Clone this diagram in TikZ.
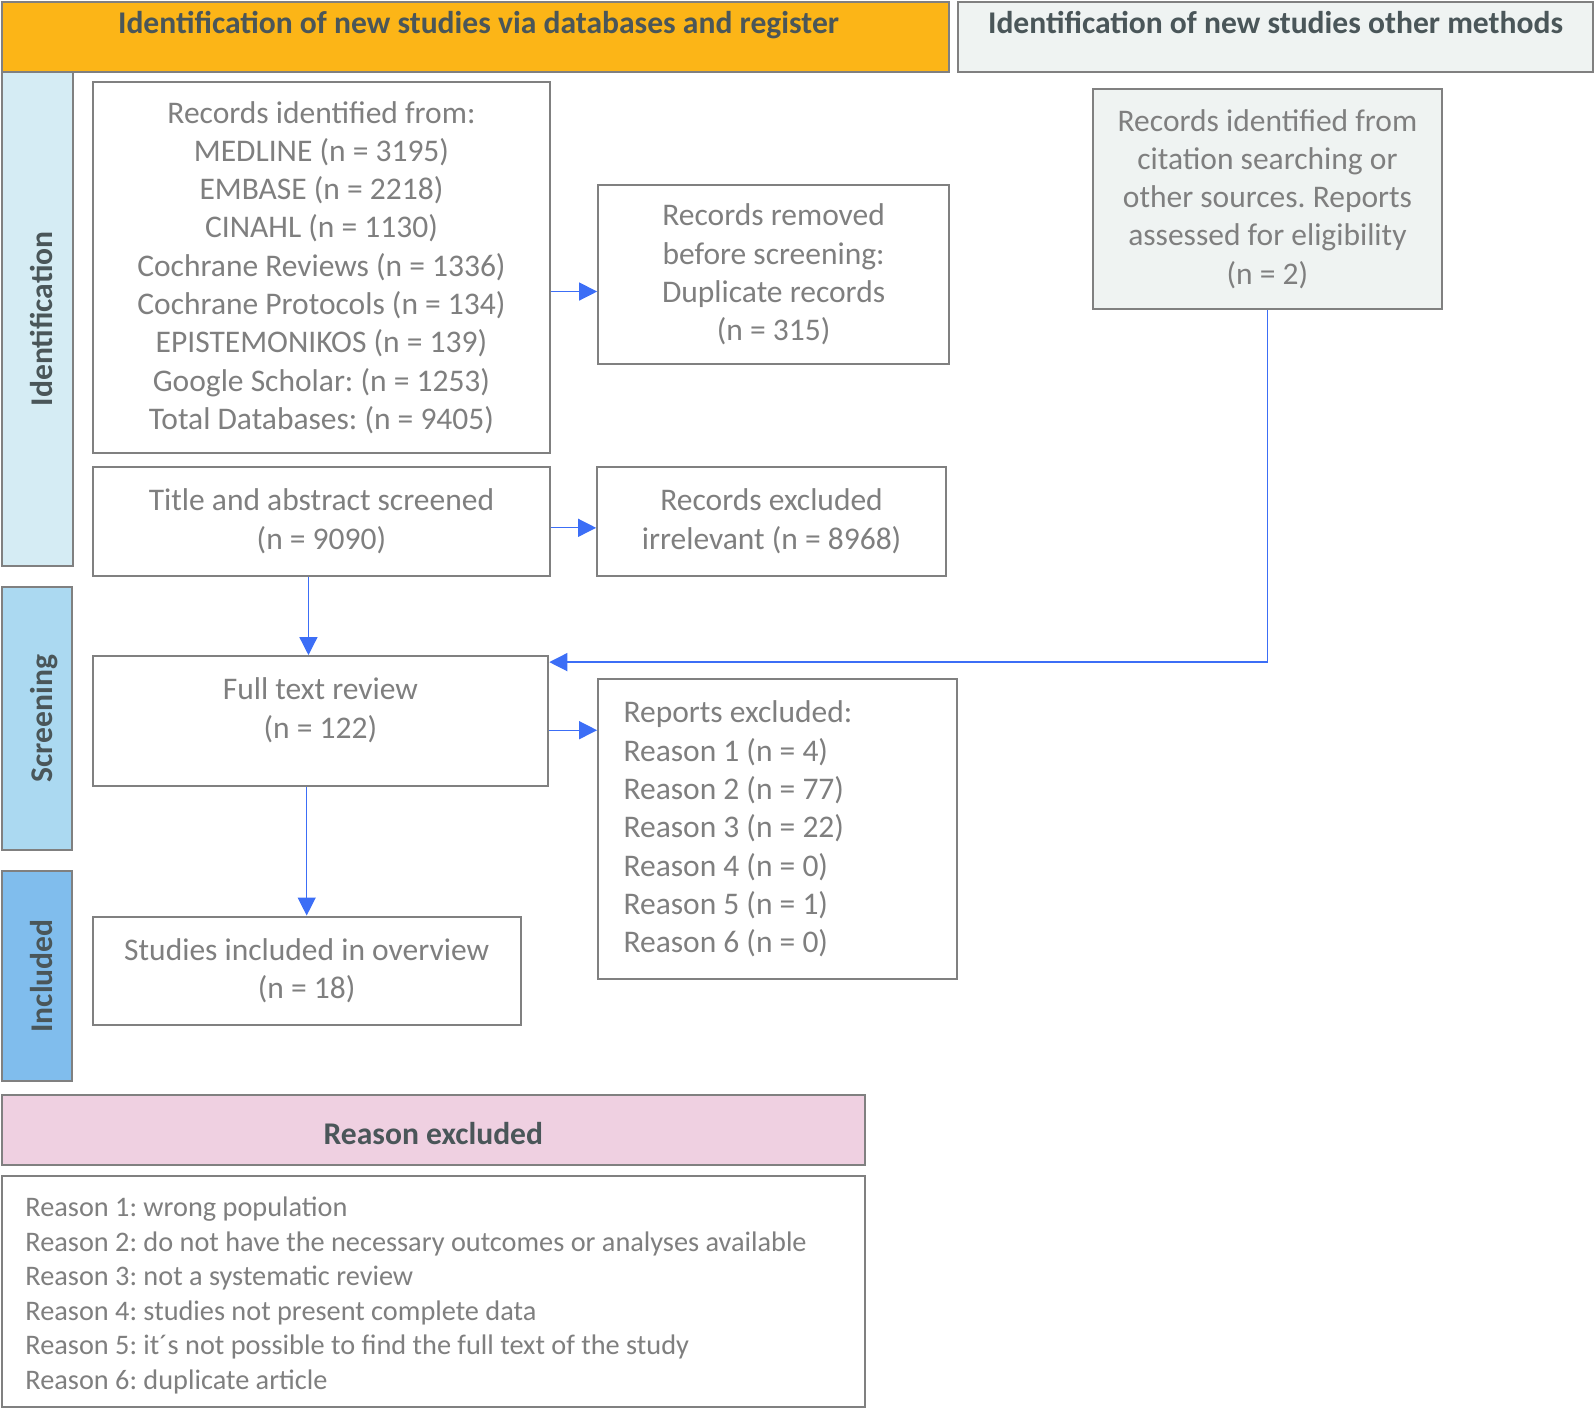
\documentclass[tikz,border=0pt]{standalone}
\usepackage{fontspec}
\setmainfont{Carlito}
\frenchspacing
\usetikzlibrary{arrows.meta}

\definecolor{boxline}{HTML}{808080}
\definecolor{boxtext}{HTML}{7F7F7F}
\definecolor{headtext}{HTML}{4A5659}
\definecolor{dbhead}{HTML}{FCB517}
\definecolor{otherhead}{HTML}{EFF3F2}
\definecolor{identfill}{HTML}{D5ECF4}
\definecolor{screenfill}{HTML}{ABD9F1}
\definecolor{inclfill}{HTML}{80BDED}
\definecolor{reasonfill}{HTML}{EFD0E1}
\definecolor{flowblue}{HTML}{3C6EF6}

\tikzset{
  flowbox/.style = {draw=boxline, line width=2pt, fill=white, text=boxtext,
    align=center, inner sep=0pt, font=\fontsize{31.5}{38.3}\selectfont},
  headbox/.style = {draw=boxline, line width=2pt, text=headtext, inner sep=0pt,
    font=\bfseries\fontsize{31.6}{38.5}\selectfont, minimum height=70.2pt,
    text height=31.5pt, text depth=38.7pt},
  phasebox/.style = {draw=boxline, line width=2pt, text=headtext, inner sep=0pt,
    rotate=90, font=\bfseries\fontsize{31.6}{38.5}\selectfont,
    text height=50pt, text depth=20pt},
  flow/.style = {draw=flowblue, line width=1.3pt, -{Triangle[length=18pt,width=18pt]}}
}

\begin{document}
\begin{tikzpicture}[x=1.0172pt, y=-1.0172pt]
    \useasboundingbox (0,0) rectangle (1568,1384);
    % column headers
    \node[headbox, fill=dbhead, minimum width=947pt] (dbhead) at (467.5,36.5)
        {\hspace*{6pt}Identification of new studies via databases and register};
    \node[headbox, fill=otherhead, minimum width=634.7pt] (otherhead) at (1254,36.5)
        {Identification of new studies other methods};
    % phases
    \node[phasebox, fill=identfill, minimum width=493.3pt, minimum height=71.2pt] (identphase) at (37,313.5) {Identification};
    \node[phasebox, fill=screenfill, minimum width=263.5pt, minimum height=70.2pt] (screenphase) at (36.5,706.5) {Screening};
    \node[phasebox, fill=inclfill, minimum width=210.6pt, minimum height=70.2pt] (inclphase) at (36.5,959.5) {Included};
    % identification
    \node[flowbox, minimum width=457.7pt, minimum height=370.3pt] (records) at (316,263)
        {Records identified from:\\MEDLINE (n = 3195)\\EMBASE (n = 2218)\\CINAHL (n = 1130)\\
         Cochrane Reviews (n = 1336)\\Cochrane Protocols (n = 134)\\EPISTEMONIKOS (n = 139)\\
         Google Scholar: (n = 1253)\\Total Databases: (n = 9405)};
    \node[flowbox, minimum width=350.9pt, minimum height=179pt] (removed) at (760.5,270)
        {Records removed\\before screening:\\Duplicate records\\(n = 315)};
    \node[flowbox, fill=otherhead, minimum width=349.9pt, minimum height=220.7pt] (other) at (1246,195.5)
        {Records identified from\\citation searching or\\other sources. Reports\\assessed for eligibility\\(n = 2)};
    \node[flowbox, minimum width=457.7pt, minimum height=108.8pt] (title) at (316,512.5)
        {Title and abstract screened\\(n = 9090)};
    \node[flowbox, minimum width=348.9pt, minimum height=108.8pt] (excluded) at (758.5,512.5)
        {Records excluded\\irrelevant (n = 8968)};
    % screening
    \node[flowbox, minimum width=455.7pt, minimum height=130.2pt] (fulltext) at (315,709)
        {Full text review\\(n = 122)\\[-12pt]\mbox{}};
    \node[flowbox, align=flush left, minimum width=359.1pt, minimum height=299.1pt,
          text width=308.3pt, inner xsep=25.4pt] (reports) at (764.5,815)
        {Reports excluded:\\Reason 1 (n = 4)\\Reason 2 (n = 77)\\Reason 3 (n = 22)\\
         Reason 4 (n = 0)\\Reason 5 (n = 1)\\Reason 6 (n = 0)};
    % included
    \node[flowbox, minimum width=428.2pt, minimum height=108.8pt] (studies) at (301.5,954.5)
        {Studies included in overview\\(n = 18)};
    % reasons
    \node[headbox, fill=reasonfill, minimum width=862.6pt, text height=50pt, text depth=20.2pt] (reasonhead) at (426,1110.5)
        {Reason excluded};
    \node[flowbox, align=flush left, minimum width=862.6pt, minimum height=230.9pt,
          text width=815.8pt, inner xsep=23.4pt, font=\fontsize{28.3}{34.6}\selectfont] (reasons) at (426,1269.5)
        {\rule{0pt}{28pt}Reason 1: wrong population\\
         Reason 2: do not have the necessary outcomes or analyses available\\
         Reason 3: not a systematic review\\
         Reason 4: studies not present complete data\\
         Reason 5: it´s not possible to find the full text of the study\\
         Reason 6: duplicate article};
    % connectors
    \coordinate (recout) at ([yshift=-24pt]records.east);
    \coordinate (titleout) at ([yshift=-6.5pt]title.east);
    \coordinate (titledown) at ([xshift=-13pt]title.south);
    \coordinate (fullin) at ([yshift=-7pt]fulltext.north east);
    \coordinate (fullout) at ([yshift=-9pt]fulltext.east);
    \draw[flow] (recout) -- (recout -| removed.west);
    \draw[flow] (titleout) -- (titleout -| excluded.west);
    \draw[flow] (titledown) -- (titledown |- fulltext.north);
    \draw[flow] (other.south) |- (fullin);
    \draw[flow] (fullout) -- (fullout -| reports.west);
    \draw[flow] (fulltext.south -| studies.north) -- (studies.north);
\end{tikzpicture}
\end{document}
